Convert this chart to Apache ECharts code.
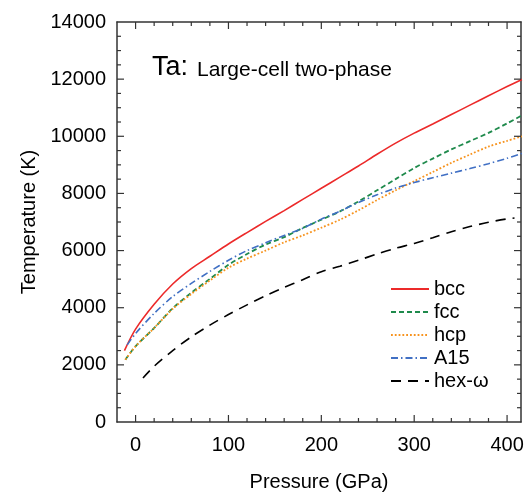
<!DOCTYPE html>
<html>
<head>
<meta charset="utf-8">
<script src="https://cdn.jsdelivr.net/npm/echarts@6/dist/echarts.min.js"></script>
<style>
html,body{margin:0;padding:0;background:#fff;}
#c{width:525px;height:492px;}
</style>
</head>
<body>
<div id="c"></div>
<script>
// Pressure (GPa) sample points and temperatures (K)
const pBcc = [-12, 0, 20, 40, 60, 80, 100, 120, 140, 160, 180, 200, 220, 240, 260, 280, 300, 320, 340, 360, 380, 400, 416];
const tBcc = [2500, 3250, 4120, 4830, 5370, 5800, 6230, 6630, 7020, 7400, 7790, 8180, 8570, 8960, 9370, 9760, 10110, 10430, 10760, 11090, 11420, 11740, 11990];

const pFcc = [-11, 0, 20, 40, 60, 80, 100, 120, 140, 160, 180, 200, 220, 240, 260, 280, 300, 320, 340, 360, 380, 400, 416];
const tFcc = [2180, 2650, 3290, 3980, 4520, 5010, 5500, 5880, 6210, 6470, 6790, 7080, 7370, 7720, 8110, 8500, 8890, 9220, 9540, 9830, 10120, 10450, 10730];

const pHcp = [-11, 0, 20, 40, 60, 80, 100, 120, 140, 160, 180, 200, 220, 240, 260, 280, 300, 320, 340, 360, 380, 400, 416];
const tHcp = [2180, 2650, 3290, 3960, 4480, 4950, 5400, 5720, 6000, 6290, 6530, 6800, 7080, 7410, 7770, 8110, 8430, 8750, 9070, 9360, 9640, 9840, 10000];

const pA15 = [-9, 0, 20, 40, 60, 80, 100, 120, 140, 160, 180, 200, 220, 240, 260, 280, 300, 320, 340, 360, 380, 400, 416];
const tA15 = [2700, 3100, 3800, 4390, 4850, 5270, 5660, 6000, 6270, 6530, 6780, 7100, 7380, 7680, 7950, 8190, 8380, 8550, 8710, 8870, 9040, 9230, 9400];

const pHex = [8, 20, 40, 60, 80, 100, 120, 140, 160, 180, 200, 220, 240, 260, 280, 300, 320, 340, 360, 380, 400, 408];
const tHex = [1540, 1950, 2500, 2980, 3390, 3760, 4100, 4420, 4710, 4980, 5260, 5450, 5660, 5880, 6080, 6250, 6450, 6660, 6840, 6990, 7110, 7140];

const seriesNames = ['bcc', 'fcc', 'hcp', 'A15', 'hex-\u03c9'];

// tick values
const xMajorTicks = [0, 100, 200, 300, 400];
const xMinorTicks = [20, 40, 60, 80, 120, 140, 160, 180, 220, 240, 260, 280, 320, 340, 360, 380];
const yMajorTicks = [2000, 4000, 6000, 8000, 10000, 12000];
const yMinorTicks = [500, 1000, 1500, 2500, 3000, 3500, 4500, 5000, 5500, 6500, 7000, 7500, 8500, 9000, 9500, 10500, 11000, 11500, 12500, 13000, 13500];

function pairs(xs, ys) { return xs.map((x, i) => [x, ys[i]]); }

const FONT = 'Liberation Sans, Arial, sans-serif';
const axisColor = '#333';
const xMin = -20, xMax = 415, xLabelStep = 100;
const yMin = 0, yMax = 14000, yStep = 2000;

// tick marks drawn as thin rectangle symbols placed through the axes' scales
function tickSeries(points, size, offset) {
  return {
    type: 'scatter', data: points, symbol: 'rect', symbolSize: size, symbolOffset: offset,
    itemStyle: { color: axisColor, opacity: 1 }, clip: false, silent: true, z: 10,
    emphasis: { disabled: true }, tooltip: { show: false }
  };
}
const tickSeriesList = [
  tickSeries(xMajorTicks.map(v => [v, yMin]), [1.2, 7], [0, -3.5]),
  tickSeries(xMinorTicks.map(v => [v, yMin]), [1.2, 4], [0, -2]),
  tickSeries(xMajorTicks.map(v => [v, yMax]), [1.2, 7], [0, 3.5]),
  tickSeries(xMinorTicks.map(v => [v, yMax]), [1.2, 4], [0, 2]),
  tickSeries(yMajorTicks.map(v => [xMin, v]), [7, 1.2], [3.5, 0]),
  tickSeries(yMinorTicks.map(v => [xMin, v]), [4, 1.2], [2, 0]),
  tickSeries(yMajorTicks.map(v => [xMax, v]), [7, 1.2], [-3.5, 0]),
  tickSeries(yMinorTicks.map(v => [xMax, v]), [4, 1.2], [-2, 0])
];

const chart = echarts.init(document.getElementById('c'));
chart.setOption({
  animation: false,
  grid: { outerBoundsMode: 'none', left: 117, right: 4, top: 22, bottom: 70 },
  xAxis: [
    { type: 'value', min: xMin, max: xMax, interval: 20, position: 'bottom',
      axisLine: { show: true, onZero: false, lineStyle: { color: axisColor, width: 1.5 } },
      axisTick: { show: false }, splitLine: { show: false },
      axisLabel: { show: true, fontSize: 20, color: '#000', margin: 13, fontFamily: FONT,
        showMinLabel: false, showMaxLabel: false, interval: 0,
        formatter: function (v) { return (v >= 0 && v % xLabelStep === 0) ? String(v) : ''; } },
      name: 'Pressure (GPa)', nameLocation: 'middle', nameGap: 50,
      nameTextStyle: { fontSize: 20, color: '#000', fontFamily: FONT } },
    { type: 'value', min: xMin, max: xMax, position: 'top',
      axisLine: { show: true, onZero: false, lineStyle: { color: axisColor, width: 1.5 } },
      axisTick: { show: false }, axisLabel: { show: false }, splitLine: { show: false } }
  ],
  yAxis: [
    { type: 'value', min: yMin, max: yMax, interval: yStep, position: 'left',
      axisLine: { show: true, onZero: false, lineStyle: { color: axisColor, width: 1.5 } },
      axisTick: { show: false }, splitLine: { show: false },
      axisLabel: { show: true, fontSize: 20, color: '#000', margin: 11, fontFamily: FONT,
        formatter: function (v) { return String(v); } },
      name: 'Temperature (K)', nameLocation: 'middle', nameGap: 74,
      nameTextStyle: { fontSize: 20, color: '#000', fontFamily: FONT } },
    { type: 'value', min: yMin, max: yMax, interval: yStep, position: 'right',
      axisLine: { show: true, onZero: false, lineStyle: { color: axisColor, width: 1.5 } },
      axisTick: { show: false }, axisLabel: { show: false }, splitLine: { show: false } }
  ],
  legend: {
    orient: 'vertical', left: 385, top: 274,
    itemWidth: 38, itemHeight: 14, itemGap: 3,
    textStyle: { fontSize: 20, color: '#000', lineHeight: 20, fontFamily: FONT },
    itemStyle: { opacity: 0 },
    data: seriesNames
  },
  title: [
    { text: 'Ta:', left: 152, top: 54, padding: 0, textStyle: { fontSize: 27, fontWeight: 'normal', color: '#000', fontFamily: FONT } },
    { text: 'Large-cell two-phase', left: 197, top: 60, padding: 0, textStyle: { fontSize: 21, fontWeight: 'normal', color: '#000', fontFamily: FONT } }
  ],
  series: [
    { name: seriesNames[0], type: 'line', data: pairs(pBcc, tBcc), smooth: 0.3, symbol: 'none',
      lineStyle: { color: '#ec2a2a', width: 1.6, type: 'solid' }, itemStyle: { color: '#ec2a2a' } },
    { name: seriesNames[1], type: 'line', data: pairs(pFcc, tFcc), smooth: 0.3, symbol: 'none',
      lineStyle: { color: '#1f8a4c', width: 1.8, type: [5, 3] }, itemStyle: { color: '#1f8a4c' } },
    { name: seriesNames[2], type: 'line', data: pairs(pHcp, tHcp), smooth: 0.3, symbol: 'none',
      lineStyle: { color: '#f7931e', width: 1.8, type: [1.8, 2] }, itemStyle: { color: '#f7931e' } },
    { name: seriesNames[3], type: 'line', data: pairs(pA15, tA15), smooth: 0.3, symbol: 'none',
      lineStyle: { color: '#4170c4', width: 1.6, type: [7, 3, 1.5, 3] }, itemStyle: { color: '#4170c4' } },
    { name: seriesNames[4], type: 'line', data: pairs(pHex, tHex), smooth: 0.3, symbol: 'none',
      lineStyle: { color: '#000', width: 1.6, type: [10, 7] }, itemStyle: { color: '#000' } }
  ].concat(tickSeriesList)
});
</script>
</body>
</html>
